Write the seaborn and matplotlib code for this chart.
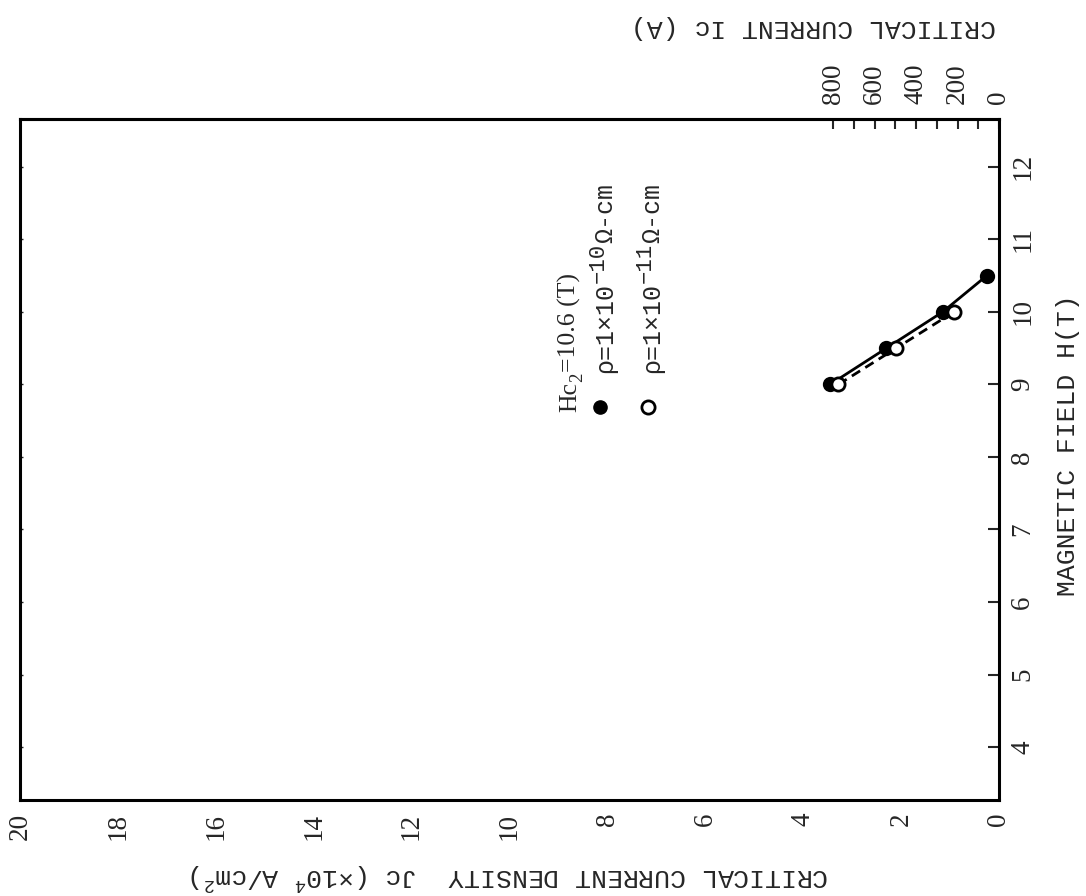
import matplotlib
matplotlib.use("Agg")
import matplotlib.pyplot as plt
import pandas as pd
import seaborn as sns
from matplotlib.lines import Line2D

# Critical current density Jc (x10^4 A/cm^2) versus applied field H (T)
field_rho10 = [9.0, 9.5, 10.0, 10.5]
jc_rho10 = [3.45, 2.3, 1.15, 0.25]
field_rho11 = [9.0, 9.5, 10.0]
jc_rho11 = [3.28, 2.1, 0.92]

jc_ticks = list(range(0, 21, 2))
field_ticks = list(range(4, 13))
ic_ticks = list(range(0, 900, 100))
ic_labeled = [0, 200, 400, 600, 800]
ic_per_jc = 236.0  # amperes per 1e4 A/cm^2 for this conductor cross-section

# key entries: (text, size, baseline shift in points)
hc2_parts = [("Hc", 18.5, 0), ("2", 13.5, -4), ("=10.6 (T)", 18.5, 0)]
rho10_parts = [("ρ=1×10", 18, 0), ("−10", 16, 6), ("Ω-cm", 18, 0)]
rho11_parts = [("ρ=1×10", 18, 0), ("−11", 16, 6), ("Ω-cm", 18, 0)]
jc_axis_label = "CRITICAL CURRENT DENSITY  Jc (×10$^4$ A/cm$^2$)"
ic_axis_label = "CRITICAL CURRENT Ic (A)"
h_axis_label = "MAGNETIC FIELD H(T)"

sns.set_style("white")
plt.rcParams["font.family"] = ["Liberation Mono", "DejaVu Sans"]
plt.rcParams["mathtext.fontset"] = "custom"
plt.rcParams["mathtext.rm"] = "Liberation Mono"
plt.rcParams["mathtext.it"] = "Liberation Mono"
plt.rcParams["mathtext.default"] = "rm"

W, H = 1086, 896
DPI = 100
fig = plt.figure(figsize=(W / DPI, H / DPI), dpi=DPI)
ax = fig.add_axes([20 / W, 1 - 800 / H, 979 / W, 681 / H])

df10 = pd.DataFrame({"H": field_rho10, "Jc": jc_rho10})
df11 = pd.DataFrame({"H": field_rho11, "Jc": jc_rho11})

sns.lineplot(data=df10, x="Jc", y="H", sort=False, estimator=None, ax=ax,
             color="black", linewidth=2, marker="o", markersize=9.5,
             markerfacecolor="black", markeredgecolor="black",
             markeredgewidth=1.5)
sns.lineplot(data=df11, x="Jc", y="H", sort=False, estimator=None, ax=ax,
             color="black", linewidth=2, linestyle=(0, (3.5, 2.2)),
             marker="o", markersize=9.5, markerfacecolor="white",
             markeredgecolor="black", markeredgewidth=2)

# Jc runs right-to-left along the bottom, field runs upward on the right
ax.set_xlim(20, 0)
ax.set_ylim(3.27, 12.66)
ax.set_xticks(jc_ticks, labels=[str(v) for v in jc_ticks], rotation=90,
              fontfamily="Liberation Serif", fontsize=19.5)
ax.yaxis.tick_right()
ax.set_yticks(field_ticks, labels=[str(v) for v in field_ticks], rotation=90,
              va="center", fontfamily="Liberation Serif", fontsize=19.5)
ax.tick_params(axis="x", direction="in", length=7, width=1.5, pad=9)
ax.tick_params(axis="y", direction="in", length=8, width=1.5, pad=8,
               left=True, right=True)
for t in ax.yaxis.get_major_ticks():
    t.tick1line.set_markersize(2.5)
    t.tick1line.set_markeredgewidth(1)
for s in ax.spines.values():
    s.set_linewidth(2.2)
    s.set_color("black")

ax.set_xlabel(jc_axis_label, rotation=180, fontsize=19)
ax.xaxis.set_label_coords(0.5, -0.112)
ax.xaxis.label.set_va("center")

ax.set_ylabel(h_axis_label, fontsize=19)
ax.yaxis.set_label_position("right")
ax.yaxis.set_label_coords(1.0705, 0.521)
ax.yaxis.label.set_rotation_mode("default")
ax.yaxis.label.set_va("center")
ax.yaxis.label.set_ha("center")

# Critical current scale on top
sec = ax.secondary_xaxis("top", functions=(lambda j: j * ic_per_jc,
                                           lambda i: i / ic_per_jc))
sec.set_xticks(ic_ticks,
               labels=[str(v) if v in ic_labeled else "" for v in ic_ticks],
               rotation=90, fontfamily="Liberation Serif", fontsize=19.5)
sec.tick_params(direction="in", length=7, width=1.5, pad=11)
sec.spines["top"].set_linewidth(2.2)
sec.set_xlabel(ic_axis_label, rotation=180, fontsize=19)
sec.xaxis.set_label_coords(0.81, 1.135, transform=ax.transAxes)
sec.xaxis.label.set_va("center")

renderer = fig.canvas.get_renderer()


def vertical_text(x, y, parts, family="Liberation Mono"):
    """Write text upward from (x, y) in axes units, piece by piece."""
    pos = 0.0
    for text, size, shift in parts:
        t = ax.annotate(text, xy=(x, y), xycoords=ax.transAxes,
                        xytext=(-shift, pos), textcoords="offset points",
                        rotation=90, rotation_mode="anchor", ha="left",
                        va="baseline", fontsize=size, fontfamily=family)
        # length along the writing direction, in points
        pos += t.get_window_extent(renderer).height * 72.0 / DPI


# Key
vertical_text(0.568, 0.570, hc2_parts, family="Liberation Serif")
ax.add_line(Line2D([0.592], [0.577], transform=ax.transAxes, marker="o",
                   markersize=9.5, markerfacecolor="black",
                   markeredgecolor="black", linestyle="none"))
ax.add_line(Line2D([0.641], [0.577], transform=ax.transAxes, marker="o",
                   markersize=9.5, markerfacecolor="white",
                   markeredgecolor="black", markeredgewidth=2,
                   linestyle="none"))
vertical_text(0.6047, 0.627, rho10_parts)
vertical_text(0.6527, 0.627, rho11_parts)

fig.savefig("out.png", dpi=DPI, facecolor="white")
